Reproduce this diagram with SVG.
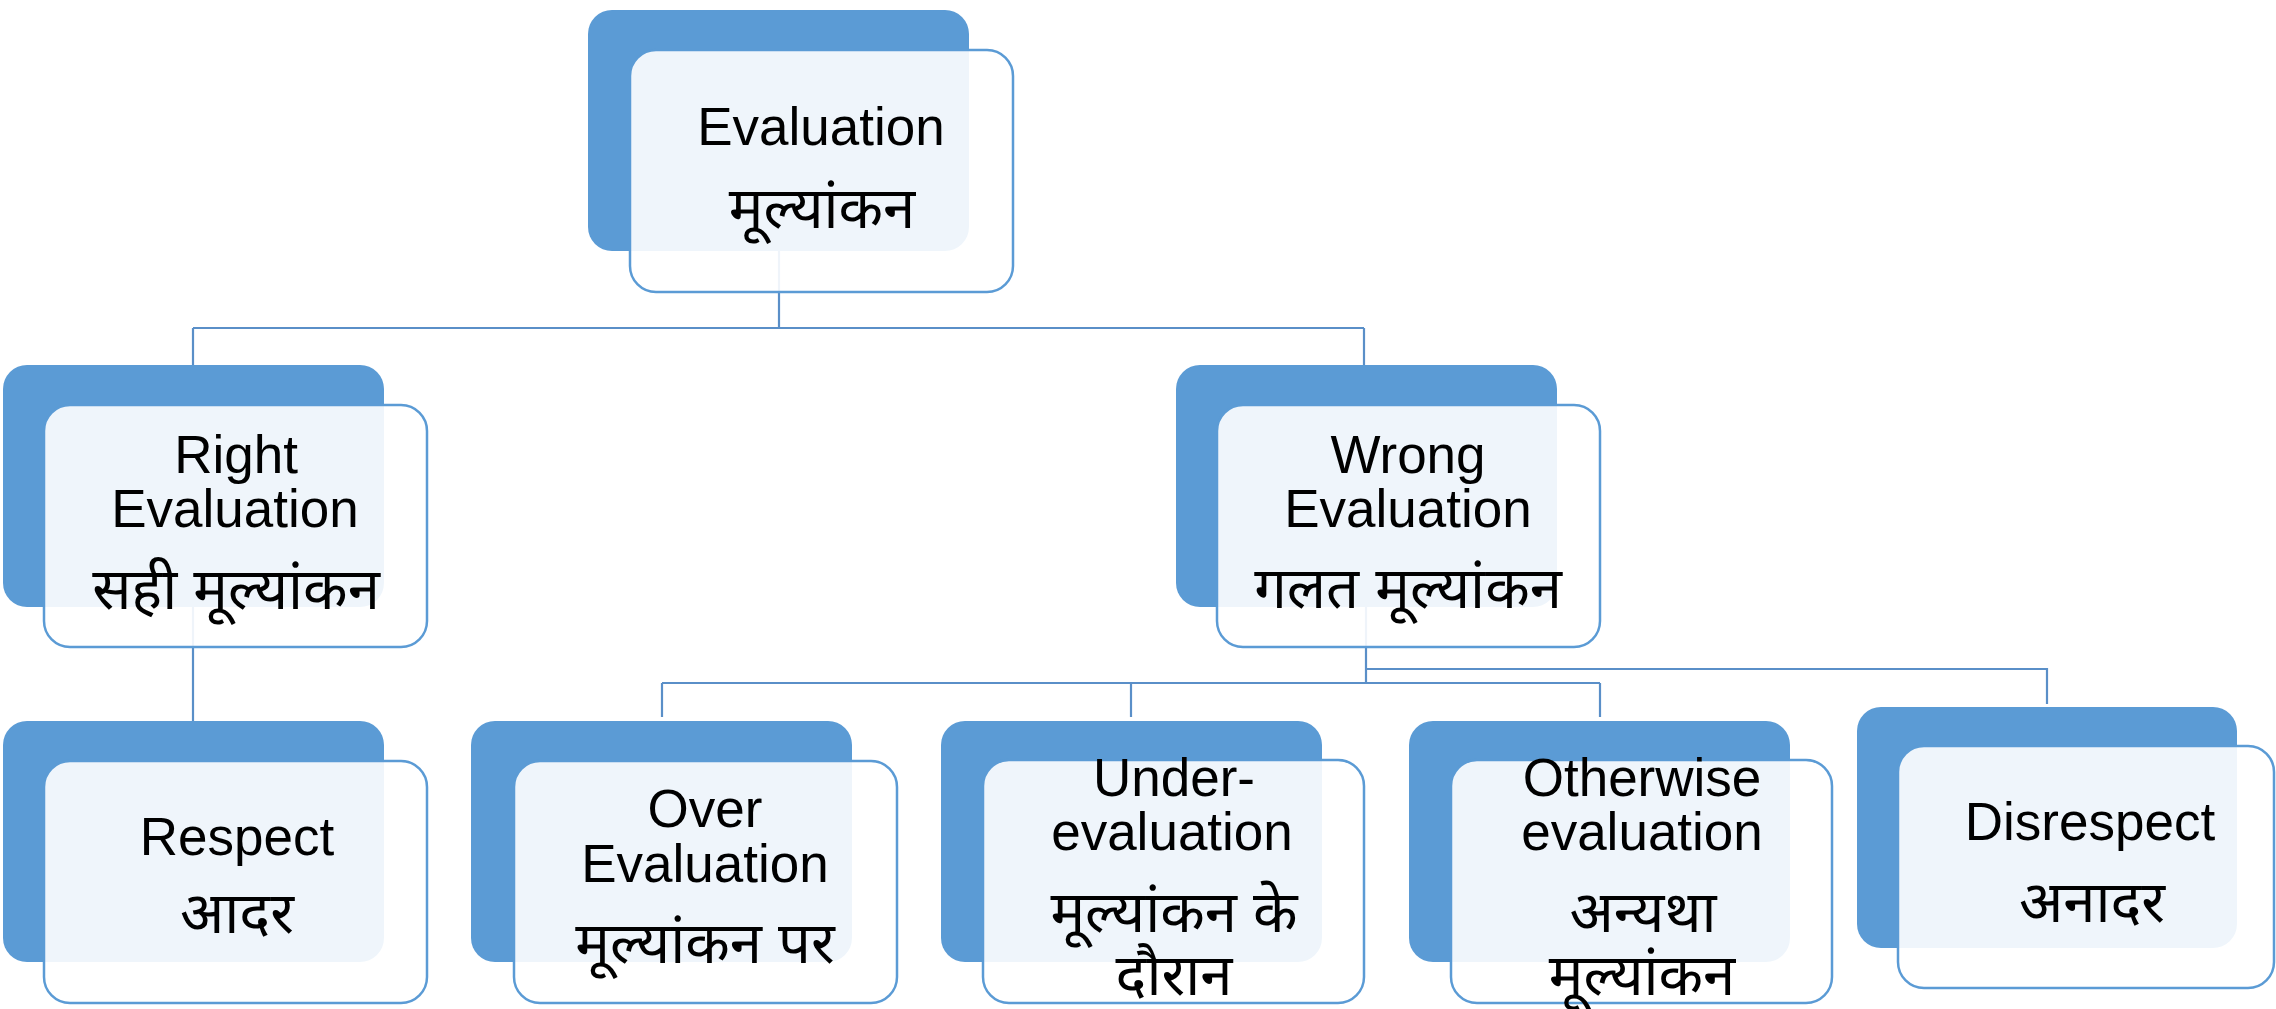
<svg xmlns="http://www.w3.org/2000/svg" width="2276" height="1009" viewBox="0 0 2276 1009">
<style>
.bg{fill:#5B9BD5}
.fg{fill:#FFFFFF;fill-opacity:0.9;stroke:#5B9BD5;stroke-width:2.5}
.c{fill:none;stroke:#5A8FC8;stroke-width:2.2}
text{font-family:"Liberation Sans","Noto Sans Devanagari","Noto Sans",sans-serif;font-size:53px;fill:#000;text-anchor:middle}
.hi{font-size:58px}
</style>
<rect width="2276" height="1009" fill="#FFFFFF"/>
<g id="back">
<rect class="bg" x="588" y="10" width="381" height="241" rx="24"/>
<rect class="bg" x="3" y="365" width="381" height="242" rx="24"/>
<rect class="bg" x="1176" y="365" width="381" height="242" rx="24"/>
<rect class="bg" x="3" y="721" width="381" height="241" rx="24"/>
<rect class="bg" x="471" y="721" width="381" height="241" rx="24"/>
<rect class="bg" x="941" y="721" width="381" height="241" rx="24"/>
<rect class="bg" x="1409" y="721" width="381" height="241" rx="24"/>
<rect class="bg" x="1857" y="707" width="380" height="241" rx="24"/>
</g>
<g id="connectors">
<path class="c" d="M779 251 V328 M193 328 H1364 M193 328 V365 M1364 328 V365"/>
<path class="c" d="M193 607 V721"/>
<path class="c" d="M1366 607 V683 M662 683 H1600 M662 683 V717 M1131 683 V717 M1600 683 V717"/>
<path class="c" d="M1366 669 H2047 V704"/>
</g>
<g id="node-evaluation">
<rect class="fg" x="630" y="50" width="383" height="242" rx="26"/>
<text x="821" y="145">Evaluation</text>
<text class="hi" x="822" y="228">मूल्यांकन</text>
</g>
<g id="node-right">
<rect class="fg" x="44" y="405" width="383" height="242" rx="26"/>
<text x="236" y="473">Right</text>
<text x="235" y="527">Evaluation</text>
<text class="hi" x="236" y="609">सही मूल्यांकन</text>
</g>
<g id="node-wrong">
<rect class="fg" x="1217" y="405" width="383" height="242" rx="26"/>
<text x="1408" y="473">Wrong</text>
<text x="1408" y="527">Evaluation</text>
<text class="hi" x="1408" y="608">गलत मूल्यांकन</text>
</g>
<g id="node-respect">
<rect class="fg" x="44" y="761" width="383" height="242" rx="26"/>
<text x="237" y="855">Respect</text>
<text class="hi" x="237" y="933">आदर</text>
</g>
<g id="node-over">
<rect class="fg" x="514" y="761" width="383" height="242" rx="26"/>
<text x="705" y="827">Over</text>
<text x="705" y="882">Evaluation</text>
<text class="hi" x="705" y="963">मूल्यांकन पर</text>
</g>
<g id="node-under">
<rect class="fg" x="983" y="760" width="381" height="243" rx="26"/>
<text x="1174" y="796">Under-</text>
<text x="1172" y="850">evaluation</text>
<text class="hi" x="1174" y="932">मूल्यांकन के</text>
<text class="hi" x="1174" y="995">दौरान</text>
</g>
<g id="node-otherwise">
<rect class="fg" x="1451" y="760" width="381" height="243" rx="26"/>
<text x="1642" y="796">Otherwise</text>
<text x="1642" y="850">evaluation</text>
<text class="hi" x="1643" y="932">अन्यथा</text>
<text class="hi" x="1642" y="995">मूल्यांकन</text>
</g>
<g id="node-disrespect">
<rect class="fg" x="1898" y="746" width="376" height="242" rx="26"/>
<text x="2090" y="840">Disrespect</text>
<text class="hi" x="2092" y="922">अनादर</text>
</g>
</svg>
